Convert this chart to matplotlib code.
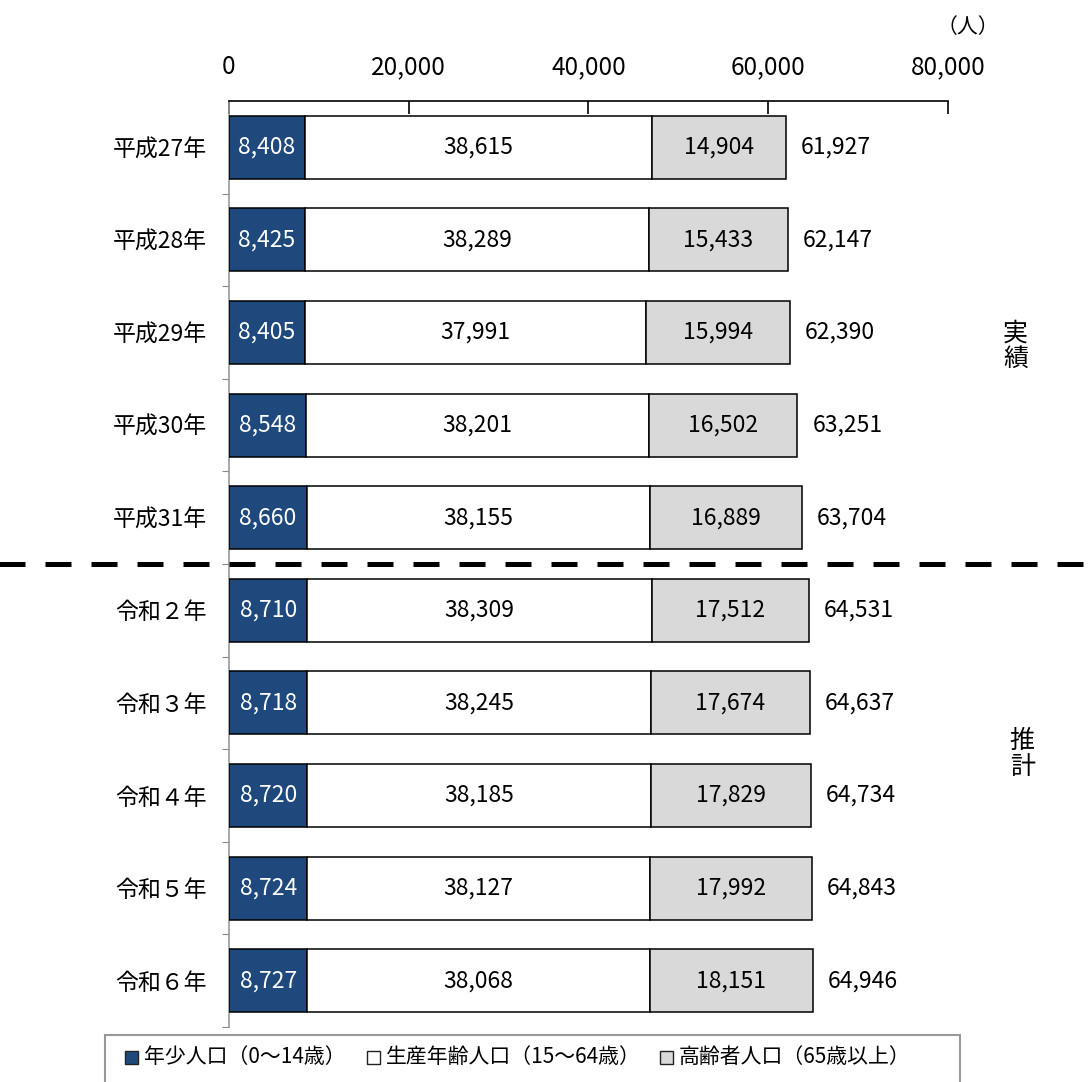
"""Population by age group, stacked horizontal bars (actual vs. projected)."""

import matplotlib
matplotlib.use("Agg")
import matplotlib.pyplot as plt
from matplotlib.patches import Rectangle
from matplotlib.ticker import FuncFormatter, MultipleLocator

plt.rcParams["font.family"] = ["Noto Sans CJK JP", "DejaVu Sans"]

years = ["平成27年", "平成28年", "平成29年", "平成30年", "平成31年",
         "令和２年", "令和３年", "令和４年", "令和５年", "令和６年"]
young = [8408, 8425, 8405, 8548, 8660, 8710, 8718, 8720, 8724, 8727]
working = [38615, 38289, 37991, 38201, 38155, 38309, 38245, 38185, 38127, 38068]
elderly = [14904, 15433, 15994, 16502, 16889, 17512, 17674, 17829, 17992, 18151]

series_names = ["年少人口（0～14歳）", "生産年齢人口（15～64歳）", "高齢者人口（65歳以上）"]
colors = ["#1F497D", "#FFFFFF", "#D9D9D9"]
text_colors = ["white", "black", "black"]

W, H = 1092, 1082
fig = plt.figure(figsize=(W / 100, H / 100), dpi=100)
ax = fig.add_axes([0.2097, 0.0508, 0.6584, 0.8559])

ypos = list(range(len(years)))
left = [0] * len(years)
for vals, col, tcol in zip([young, working, elderly], colors, text_colors):
    bars = ax.barh(ypos, vals, left=left, height=0.68, color=col,
                   edgecolor="black", linewidth=1.1, zorder=3)
    for b, v in zip(bars, vals):
        ax.text(b.get_x() + b.get_width() / 2, b.get_y() + b.get_height() / 2,
                f"{v:,}", ha="center", va="center", color=tcol, fontsize=16.5,
                zorder=4)
    left = [a + b for a, b in zip(left, vals)]

# totals to the right of each bar
for y, tot in zip(ypos, left):
    ax.annotate(f"{tot:,}", (tot, y), xytext=(11, 0), textcoords="offset points",
                ha="left", va="center", fontsize=16.5)

ax.set_xlim(0, 80000)
ax.set_ylim(len(years) - 0.5, -0.5)

ax.xaxis.tick_top()
ax.xaxis.set_major_locator(MultipleLocator(20000))
ax.xaxis.set_major_formatter(FuncFormatter(lambda v, _: f"{int(v):,}"))
ax.tick_params(axis="x", direction="in", length=9, width=1.2, pad=15,
               labelsize=17.5, color="black")

ax.set_yticks(ypos)
ax.set_yticklabels(years, fontsize=16.5)
ax.set_yticks([i + 0.5 for i in ypos], minor=True)
ax.tick_params(axis="y", which="major", length=0, pad=16)
ax.tick_params(axis="y", which="minor", length=5, width=0.8, color="#888888")

for side in ("right", "bottom"):
    ax.spines[side].set_visible(False)
ax.spines["top"].set_color("black")
ax.spines["top"].set_linewidth(1.2)
ax.spines["left"].set_color("#999999")
ax.spines["left"].set_linewidth(1.2)

# dashed separator between actual and projected years
ax.axhline(4.5, xmin=-0.32, xmax=1.21, color="black", linewidth=3.6,
           linestyle=(0, (5.2, 4.0)), clip_on=False, zorder=5)

fig.text(968 / W, 1 - 27 / H, "（人）", ha="center", va="center", fontsize=15)
fig.text(0.930, 0.680, "実\n績", ha="center", va="center", fontsize=18,
         linespacing=1.0)
fig.text(0.936, 0.303, "推\n計", ha="center", va="center", fontsize=18,
         linespacing=1.0)

# legend strip along the bottom edge
fig.patches.append(Rectangle((105 / W, -0.01), (960 - 105) / W,
                             (H - 1035) / H + 0.01,
                             transform=fig.transFigure, facecolor="white",
                             edgecolor="#999999", linewidth=1.5))
legend_x = [125, 367, 660]
legend_y = 1 - 1057 / H
for x, name, col in zip(legend_x, series_names, colors):
    fig.patches.append(Rectangle((x / W, legend_y - 7 / H), 13 / W, 13 / H,
                                 transform=fig.transFigure, facecolor=col,
                                 edgecolor="#222222", linewidth=1.0))
    fig.text((x + 19) / W, legend_y, name, ha="left", va="center",
             fontsize=15)

fig.savefig("out.png", dpi=100)
